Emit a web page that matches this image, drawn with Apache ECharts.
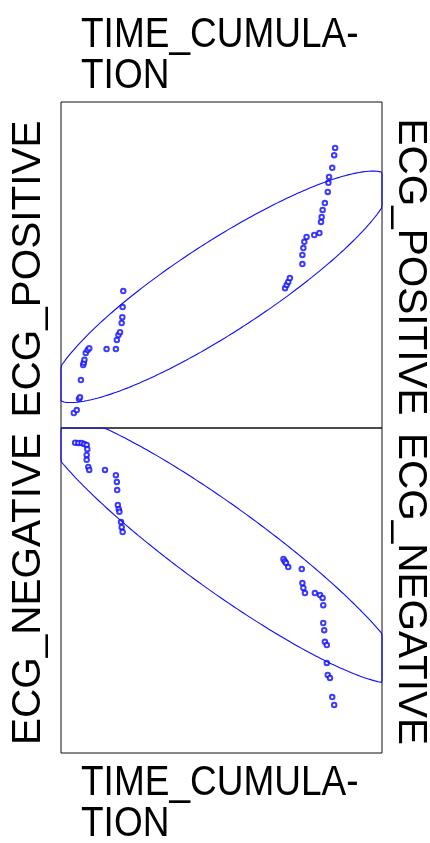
<!DOCTYPE html>
<html>
<head>
<meta charset="utf-8">
<style>
  html, body { margin: 0; padding: 0; background: #fff; }
  #chart { width: 430px; height: 843px; }
</style>
<script src="https://cdn.jsdelivr.net/npm/echarts@6/dist/echarts.min.js"></script>
</head>
<body>
<div id="chart"></div>
<script>
// TIME_CUMULATION vs ECG_POSITIVE (upper panel)
var timePositive = [4.0, 4.9, 5.6, 5.9, 6.2, 6.9, 7.1, 7.3, 7.7, 8.3,
  8.8, 14.2, 17.1, 17.4, 17.9, 18.4, 18.9, 19.1, 19.2, 19.4,
  69.8, 70.3, 70.8, 71.3, 75.2, 75.2, 75.5, 75.8, 76.5, 78.9,
  80.5, 81.0, 81.2, 81.5, 82.2, 83.1, 83.3, 83.5, 84.5, 85.1, 85.4]
var ecgPositive = [4.6, 5.5, 8.9, 9.4, 14.7, 19.3, 20.0, 20.9, 23.0, 23.9,
  24.5, 24.2, 24.2, 27.0, 28.5, 29.4, 32.2, 34.0, 37.1, 42.0,
  42.9, 43.9, 44.8, 46.0, 50.3, 53.1, 55.2, 57.1, 58.6, 59.2,
  59.8, 63.2, 64.7, 66.9, 69.0, 72.4, 75.2, 77.0, 79.8, 83.7, 85.9]

// TIME_CUMULATION vs ECG_NEGATIVE (lower panel)
var timeNegative = [4.4, 5.4, 6.4, 7.2, 8.0, 8.2, 8.0, 8.0, 8.5, 8.8,
  13.7, 17.1, 17.4, 17.5, 17.7, 18.0, 18.2, 18.7, 18.9, 19.2,
  69.3, 69.7, 70.1, 70.8, 75.0, 75.2, 75.5, 76.0, 79.1, 80.7,
  81.5, 81.7, 81.7, 82.0, 82.2, 82.8, 82.8, 83.1, 83.8, 84.5, 85.1]
var ecgNegative = [95.5, 95.4, 95.4, 95.1, 94.8, 93.5, 91.7, 90.2, 88.0, 87.1,
  87.1, 85.5, 83.4, 80.9, 76.3, 75.0, 74.2, 71.1, 69.5, 68.0,
  59.7, 59.0, 58.5, 57.2, 56.6, 52.3, 50.8, 49.2, 49.2, 48.6,
  47.7, 45.5, 40.0, 37.8, 34.2, 33.2, 27.7, 24.0, 23.1, 17.2, 14.8]

// prediction ellipses: [centerX, centerY, halfWidth, slope, halfHeightAtCenter]
var ellipsePositive = [50, 43.3, 53, 0.595, 16.3]
var ellipseNegative = [50, 63.2, 57, -0.68, 15.6]

var axisRange = [0, 100]
var labelFont = '"Liberation Sans", Arial, sans-serif'

function pairs(xs, ys) {
  return xs.map(function (x, i) { return [x, ys[i]] })
}

// outline clamped to the panel so it runs along the frame like the original
function ellipse(p) {
  var out = []
  for (var k = 0; k <= 360; k++) {
    var t = k / 360 * Math.PI * 2
    var dx = p[2] * Math.cos(t)
    var x = p[0] + dx
    var y = p[1] + p[3] * dx + p[4] * Math.sin(t)
    x = Math.min(axisRange[1], Math.max(axisRange[0], x))
    y = Math.min(axisRange[1], Math.max(axisRange[0], y))
    out.push([x, y])
  }
  return out
}

function hiddenAxis(idx) {
  return {
    gridIndex: idx, type: 'value', min: axisRange[0], max: axisRange[1],
    axisLine: { show: false }, axisTick: { show: false },
    axisLabel: { show: false }, splitLine: { show: false }
  }
}

var chart = echarts.init(document.getElementById('chart'))
var blue = '#0c0cff'

function sideLabel(text, x, y, rot) {
  return {
    type: 'text', x: x, y: y, rotation: rot,
    style: { text: text, font: '40.5px ' + labelFont, fill: '#000', align: 'center', verticalAlign: 'middle' }
  }
}

function timeLabel(y) {
  return {
    type: 'text', x: 81, y: y, scaleY: 1.17,
    style: { text: 'TIME_CUMULA-\nTION', font: '37px ' + labelFont, fill: '#000', lineHeight: 35, verticalAlign: 'top' }
  }
}

var option = {
  animation: false,
  backgroundColor: '#fff',
  grid: [
    { left: 61, top: 102, width: 321, height: 326, show: true, borderColor: '#111', borderWidth: 1 },
    { left: 61, top: 428, width: 321, height: 325, show: true, borderColor: '#111', borderWidth: 1 }
  ],
  xAxis: [hiddenAxis(0), hiddenAxis(1)],
  yAxis: [hiddenAxis(0), hiddenAxis(1)],
  series: [
    {
      type: 'scatter', xAxisIndex: 0, yAxisIndex: 0,
      data: pairs(timePositive, ecgPositive),
      symbol: 'emptyCircle', symbolSize: 4.5,
      itemStyle: { color: blue, borderWidth: 1.2 }
    },
    {
      type: 'line', xAxisIndex: 0, yAxisIndex: 0,
      data: ellipse(ellipsePositive),
      showSymbol: false, z: 5,
      lineStyle: { color: blue, width: 1.1 }
    },
    {
      type: 'scatter', xAxisIndex: 1, yAxisIndex: 1,
      data: pairs(timeNegative, ecgNegative),
      symbol: 'emptyCircle', symbolSize: 4.5,
      itemStyle: { color: blue, borderWidth: 1.2 }
    },
    {
      type: 'line', xAxisIndex: 1, yAxisIndex: 1,
      data: ellipse(ellipseNegative),
      showSymbol: false, z: 5,
      lineStyle: { color: blue, width: 1.1 }
    }
  ],
  graphic: [
    timeLabel(15),
    timeLabel(763),
    sideLabel('ECG_POSITIVE', 29, 269, Math.PI / 2),
    sideLabel('ECG_NEGATIVE', 29, 589, Math.PI / 2),
    sideLabel('ECG_POSITIVE', 410, 267, -Math.PI / 2),
    sideLabel('ECG_NEGATIVE', 410, 589, -Math.PI / 2)
  ]
}

chart.setOption(option)
window.addEventListener('resize', function () {
  chart.resize()
})
</script>
</body>
</html>
